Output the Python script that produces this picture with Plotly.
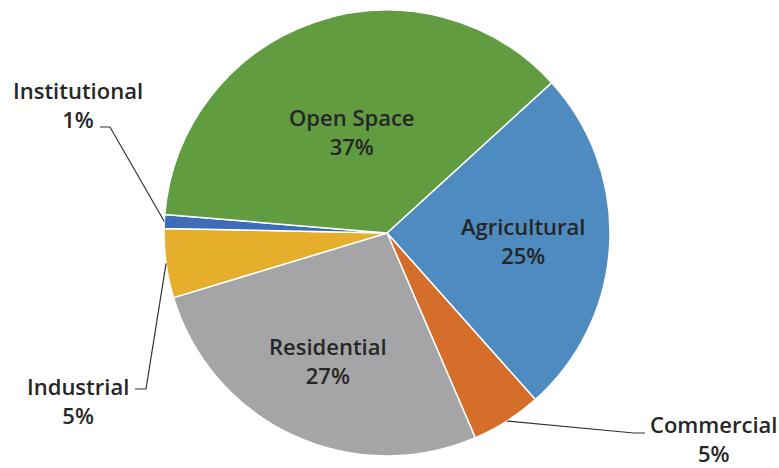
import math
import plotly.graph_objects as go

# ---- data ----
labels = ["Agricultural", "Commercial", "Residential", "Industrial", "Institutional", "Open Space"]
values = [25.2, 5.1, 26.8, 5.0, 1.0, 36.9]
pct_text = ["25%", "5%", "27%", "5%", "1%", "37%"]
colors = ["#4E8BC1", "#D46E2A", "#A5A5A7", "#E5AE2B", "#3F6CB6", "#619C41"]

W, H = 779, 468
CX, CY, R = 387, 233, 223
ROT = 47.6

FONT = "Open Sans, Liberation Sans, Arial, sans-serif"
TXT = "#262626"

def px(x):
    return x / W

def py(y):
    return 1 - y / H

fig = go.Figure(go.Pie(
    labels=labels, values=values, sort=False, direction="clockwise",
    rotation=ROT, textinfo="none", hoverinfo="label+percent",
    marker=dict(colors=colors, line=dict(color="white", width=1.5)),
    domain=dict(x=[px(CX - R), px(CX + R)], y=[py(CY + R), py(CY - R)]),
    showlegend=False,
))

# mid angles computed from the data
total = sum(values)
mids = []
acc = ROT
for v in values:
    span = v / total * 360
    mids.append(acc + span / 2)
    acc += span

def edge(i, rfrac=1.0):
    a = math.radians(mids[i])
    return CX + R * rfrac * math.sin(a), CY - R * rfrac * math.cos(a)

annotations = []
shapes = []
label_font = dict(family=FONT, size=22, color=TXT, weight=600)

# inside labels (radius fraction per slice for placement)
inside = {5: 0.48, 0: 0.61, 2: 0.63}
for i, rf in inside.items():
    x, y = edge(i, rf)
    annotations.append(dict(
        x=px(x), y=py(y), xref="paper", yref="paper",
        text=f"{labels[i]}<br>{pct_text[i]}", showarrow=False,
        font=label_font, align="center", xanchor="center", yanchor="middle",
    ))

# outside labels with elbow leader lines (pixel positions)
outside = {
    4: dict(text_xy=(78, 105), anchor="center", elbow=(110, 127), end=(100, 127)),
    3: dict(text_xy=(78, 400), anchor="center", elbow=(146, 389), end=(135, 389)),
    1: dict(text_xy=(779, 438), anchor="right", elbow=(634, 433), end=(645, 433)),
}
for i, o in outside.items():
    tx, ty = o["text_xy"]
    annotations.append(dict(
        x=px(tx), y=py(ty), xref="paper", yref="paper",
        text=f"{labels[i]}<br>{pct_text[i]}", showarrow=False,
        font=label_font, align="center", xanchor=o["anchor"], yanchor="middle",
    ))
    sx, sy = edge(i)
    ex, ey = o["elbow"]
    lx, ly = o["end"]
    path = f"M {px(sx)} {py(sy)} L {px(ex)} {py(ey)} L {px(lx)} {py(ly)}"
    shapes.append(dict(type="path", xref="paper", yref="paper", path=path,
                       line=dict(color="#333333", width=1.2)))

fig.update_layout(
    width=W, height=H,
    margin=dict(l=0, r=0, t=0, b=0),
    paper_bgcolor="white", plot_bgcolor="white",
    annotations=annotations, shapes=shapes,
)

fig.write_html(
    "out.html",
    config={"displayModeBar": False},
    post_script="document.body.style.margin='0';document.body.style.overflow='hidden';",
)
